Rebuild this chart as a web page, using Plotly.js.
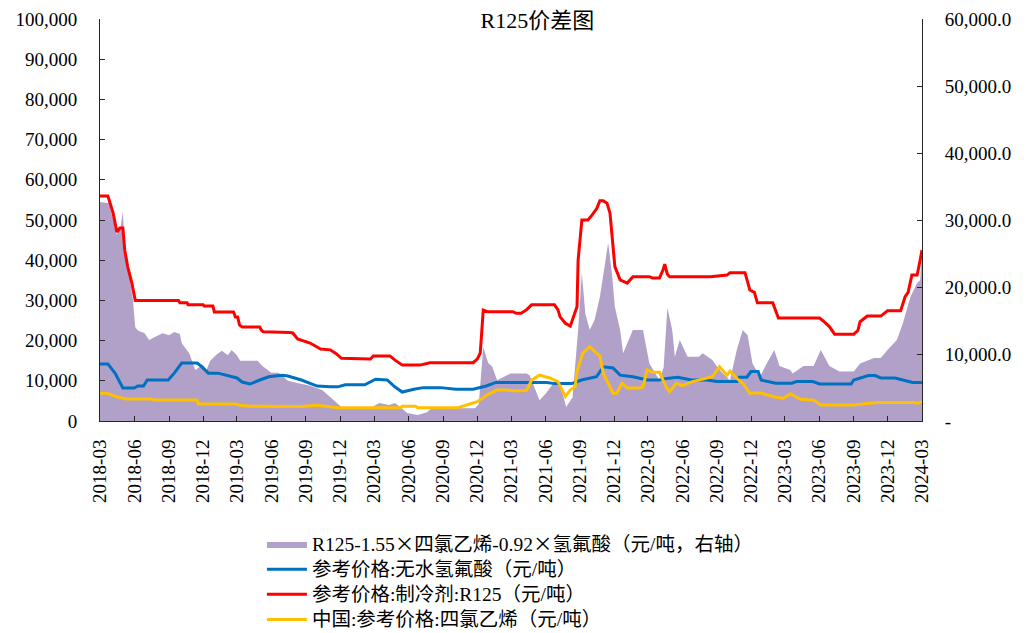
<!DOCTYPE html>
<html>
<head>
<meta charset="utf-8">
<script src="https://cdn.plot.ly/plotly-3.0.1.min.js"></script>
<style>
  html, body { margin: 0; padding: 0; background: #ffffff; }
  #chart { width: 1033px; height: 633px; }
</style>
</head>
<body>
<div id="chart"></div>
<script>
// R125 spread (right axis, area)
const spreadDates = ['2018-03-01','2018-03-25','2018-04-15','2018-04-25','2018-05-01','2018-05-06','2018-05-20','2018-05-28','2018-06-03','2018-06-10','2018-06-28','2018-07-10','2018-07-28','2018-08-15','2018-09-01','2018-09-15','2018-09-30','2018-10-05','2018-10-25','2018-11-01','2018-11-10','2018-11-30','2018-12-10','2018-12-20','2019-01-05','2019-01-20','2019-02-05','2019-02-15','2019-02-28','2019-03-10','2019-04-25','2019-05-08','2019-06-01','2019-06-20','2019-07-15','2019-08-15','2019-09-10','2019-10-15','2019-11-05','2019-11-25','2019-12-05','2020-02-25','2020-03-15','2020-04-10','2020-04-25','2020-05-10','2020-05-28','2020-06-25','2020-07-20','2020-08-01','2020-11-25','2020-12-05','2020-12-17','2020-12-30','2021-01-10','2021-01-23','2021-02-28','2021-04-12','2021-04-20','2021-05-16','2021-06-02','2021-06-28','2021-07-12','2021-07-26','2021-08-12','2021-08-27','2021-09-06','2021-09-15','2021-09-27','2021-10-10','2021-10-24','2021-11-07','2021-11-15','2021-11-25','2021-12-03','2021-12-17','2021-12-25','2022-01-20','2022-02-16','2022-03-05','2022-04-01','2022-04-12','2022-04-22','2022-05-05','2022-05-12','2022-05-25','2022-06-15','2022-07-15','2022-07-25','2022-08-20','2022-09-08','2022-10-06','2022-10-24','2022-11-09','2022-11-22','2022-12-05','2022-12-25','2023-01-12','2023-02-01','2023-02-15','2023-03-16','2023-03-22','2023-04-20','2023-05-17','2023-06-05','2023-06-28','2023-07-25','2023-09-01','2023-09-18','2023-10-25','2023-11-12','2023-11-30','2023-12-25','2024-01-10','2024-01-30','2024-02-17','2024-02-25','2024-03-01'];
const spreadVals = [32700,32500,27800,29000,31200,26000,21000,18000,14000,13500,13100,12100,12600,13100,12800,13300,13000,11600,10100,9100,7600,8400,7600,9000,9900,10500,9800,10600,9900,9000,9000,8200,7200,7200,6000,5600,5300,4600,3600,2600,2100,2100,2700,2400,2700,2100,1200,900,1300,1900,1900,2500,11000,8700,8100,6100,7100,7100,6800,3100,4100,6100,5100,2100,3500,13600,22100,16100,13600,15100,18500,23600,26600,22100,17000,13600,10100,13600,13600,8600,6100,8000,16900,13600,9600,12100,9600,9600,10100,9100,7600,6100,10600,13600,12800,8600,6600,8600,10600,8200,7600,7100,8200,8200,10600,8200,7400,7400,8600,9400,9400,10600,12100,14600,18500,20600,21000,25500];

// anhydrous hydrofluoric acid
const hfDates = ['2018-03-01','2018-03-22','2018-04-10','2018-04-23','2018-05-01','2018-05-31','2018-06-10','2018-06-25','2018-07-05','2018-08-30','2018-09-15','2018-10-05','2018-11-15','2018-11-25','2018-12-15','2019-01-10','2019-03-01','2019-03-15','2019-04-05','2019-05-01','2019-05-25','2019-06-30','2019-07-15','2019-08-20','2019-10-01','2019-11-05','2019-11-25','2019-12-15','2020-02-05','2020-03-05','2020-04-05','2020-04-25','2020-05-15','2020-06-15','2020-07-10','2020-08-25','2020-10-05','2020-11-20','2020-12-25','2021-01-20','2021-06-05','2021-06-25','2021-08-10','2021-09-05','2021-10-15','2021-11-02','2021-11-28','2021-12-17','2022-01-20','2022-02-28','2022-04-01','2022-04-20','2022-05-20','2022-06-25','2022-08-05','2022-09-01','2022-10-25','2022-10-30','2022-11-20','2022-12-01','2022-12-20','2022-12-28','2023-02-05','2023-03-20','2023-04-01','2023-05-15','2023-06-02','2023-08-25','2023-09-01','2023-10-10','2023-10-28','2023-11-12','2023-12-20','2024-01-10','2024-02-05','2024-03-01'];
const hfVals = [14200,14200,11900,9500,8200,8200,8700,8700,10200,10200,11900,14400,14400,13700,11900,11900,10700,9700,9200,10200,11000,11400,11200,10200,8700,8500,8500,9000,9000,10400,10200,8500,7200,7900,8300,8300,7900,7900,8700,9600,9600,9300,9300,10200,11000,13500,13200,11400,11000,10200,10200,10600,10900,10200,10200,9800,9800,10900,10900,12300,12300,10200,9400,9400,9800,9800,9200,9200,10200,11300,11300,10700,10700,10200,9600,9600];

// refrigerant R125
const r125Dates = ['2018-03-01','2018-03-22','2018-04-05','2018-04-15','2018-04-23','2018-05-01','2018-05-06','2018-05-14','2018-05-25','2018-06-03','2018-09-26','2018-09-30','2018-10-19','2018-10-22','2018-12-01','2018-12-04','2018-12-27','2018-12-31','2019-02-20','2019-02-25','2019-03-03','2019-03-08','2019-03-15','2019-05-01','2019-05-05','2019-05-10','2019-07-20','2019-07-28','2019-08-10','2019-08-25','2019-09-12','2019-10-01','2019-10-10','2019-11-05','2019-11-20','2019-12-05','2020-02-20','2020-02-28','2020-04-12','2020-04-25','2020-05-15','2020-07-01','2020-07-20','2020-07-28','2020-11-20','2020-12-01','2020-12-09','2020-12-17','2020-12-28','2021-03-06','2021-03-15','2021-03-28','2021-04-12','2021-04-25','2021-06-25','2021-07-04','2021-07-10','2021-07-24','2021-08-06','2021-08-14','2021-08-24','2021-08-27','2021-09-01','2021-09-06','2021-09-22','2021-10-03','2021-10-16','2021-10-24','2021-11-02','2021-11-12','2021-11-20','2021-11-28','2021-12-03','2021-12-17','2022-01-05','2022-01-20','2022-03-05','2022-03-13','2022-04-01','2022-04-10','2022-04-15','2022-04-22','2022-04-28','2022-08-15','2022-09-28','2022-10-06','2022-11-15','2022-11-28','2022-12-10','2022-12-18','2023-01-28','2023-02-12','2023-06-02','2023-06-10','2023-06-28','2023-07-12','2023-09-01','2023-09-12','2023-09-18','2023-10-07','2023-11-12','2023-11-30','2024-01-04','2024-01-16','2024-01-24','2024-02-03','2024-02-17','2024-02-25','2024-03-01'];
const r125Vals = [56000,56000,51700,47000,48000,48000,42500,38300,34300,30000,30000,29400,29400,28900,28900,28600,28600,27100,27100,25900,25900,23900,23400,23400,22600,22200,22000,21900,20400,20000,19400,18400,17900,17700,16800,15600,15400,16200,16200,15200,13900,13900,14200,14500,14500,15400,16900,27600,27200,27200,26800,26800,27700,28900,28900,27700,25900,24300,23600,25900,28400,40000,45500,50000,50000,51200,52900,54800,54800,54200,51700,42100,38400,35100,34300,35900,35900,35600,35600,37500,39000,36500,35900,35900,36300,36900,36900,32600,32000,29400,29400,25600,25600,25000,23500,21600,21600,22500,24700,26100,26100,27400,27400,30900,32000,36300,36300,40000,42500];

// China tetrachloroethylene
const pceDates = ['2018-03-01','2018-03-20','2018-04-15','2018-05-10','2018-07-15','2018-07-25','2018-11-15','2018-11-18','2019-02-25','2019-03-10','2019-04-05','2019-07-20','2019-08-20','2019-10-01','2019-11-25','2020-05-10','2020-05-15','2020-06-20','2020-06-25','2020-10-10','2020-11-05','2020-12-01','2020-12-28','2021-01-23','2021-02-18','2021-03-06','2021-04-01','2021-04-12','2021-04-25','2021-05-16','2021-06-12','2021-07-04','2021-07-24','2021-08-06','2021-08-19','2021-08-24','2021-09-08','2021-09-27','2021-10-16','2021-10-24','2021-11-02','2021-11-15','2021-11-28','2021-12-08','2021-12-22','2022-01-05','2022-02-08','2022-02-16','2022-02-27','2022-03-13','2022-04-01','2022-04-20','2022-04-28','2022-05-16','2022-06-01','2022-06-28','2022-08-05','2022-08-20','2022-09-08','2022-09-28','2022-10-06','2022-10-24','2022-11-09','2022-11-28','2022-12-25','2023-01-28','2023-02-25','2023-03-16','2023-04-12','2023-05-17','2023-06-05','2023-09-01','2023-10-01','2023-11-02','2024-02-08','2024-02-19','2024-03-01'];
const pceVals = [6900,6900,6000,5500,5500,5200,5200,4200,4200,3900,3700,3700,3600,3900,3300,3300,3700,3700,3300,3300,4000,4800,6500,7700,7700,7500,7500,7700,10200,11400,10700,9800,6100,7700,8500,12300,16800,18500,16800,16200,11900,9400,6900,6900,9400,8200,8200,8500,12700,12100,12100,8200,7300,9400,8800,9800,10600,11000,13500,11400,12400,10600,9400,6900,7000,6100,5600,6800,5400,5200,4000,4000,4300,4600,4600,4400,4800];

const TIMES = '<span style="font-family:\'Noto Sans CJK SC\'">×</span>';
const seriesNames = [
  'R125-1.55' + TIMES + '四氯乙烯-0.92' + TIMES + '氢氟酸（元/吨，右轴）',
  '参考价格:无水氢氟酸（元/吨）',
  '参考价格:制冷剂:R125（元/吨）',
  '中国:参考价格:四氯乙烯（元/吨）'
];
const rightTickVals = [0, 10000, 20000, 30000, 40000, 50000, 60000];
const rightTickText = ['-', '10,000.0', '20,000.0', '30,000.0', '40,000.0', '50,000.0', '60,000.0'];

const FONT = 'Liberation Serif, "Noto Sans CJK SC", serif';
const AXIS_COLOR = '#262626';

// legend rows keep 17px spacing, text itself drawn a little larger
function legendLabel(s) {
  return '<span style="font-size:19.5px">' + s + '</span>';
}

const traces = [
  { x: spreadDates, y: spreadVals, name: legendLabel(seriesNames[0]), type: 'scatter', mode: 'lines',
    fill: 'tozeroy', fillcolor: '#b1a0c7', line: { width: 0, color: '#b1a0c7' }, yaxis: 'y' },
  { x: hfDates, y: hfVals, name: legendLabel(seriesNames[1]), type: 'scatter', mode: 'lines',
    line: { color: '#0070c0', width: 3 }, yaxis: 'y2' },
  { x: r125Dates, y: r125Vals, name: legendLabel(seriesNames[2]), type: 'scatter', mode: 'lines',
    line: { color: '#ff0000', width: 3 }, yaxis: 'y2' },
  { x: pceDates, y: pceVals, name: legendLabel(seriesNames[3]), type: 'scatter', mode: 'lines',
    line: { color: '#ffc000', width: 3 }, yaxis: 'y2' }
];

const tickStyle = {
  ticks: 'inside', ticklen: 5, tickcolor: AXIS_COLOR, showline: true, linecolor: AXIS_COLOR, linewidth: 1,
  showgrid: false, zeroline: false, automargin: false,
  tickfont: { family: FONT, size: 19, color: '#000000' }
};

const layout = {
  width: 1033, height: 633,
  margin: { l: 100, r: 111, t: 19, b: 212, autoexpand: false },
  paper_bgcolor: '#ffffff', plot_bgcolor: '#ffffff',
  font: { family: FONT, size: 19, color: '#000000' },
  title: { text: 'R125价差图', font: { family: FONT, size: 22, color: '#000000' },
    x: 0.532, xref: 'paper', xanchor: 'center', y: 0.968, yref: 'container', yanchor: 'middle' },
  showlegend: true,
  legend: { x: 0.197, xanchor: 'left', y: -0.2625, yanchor: 'top', orientation: 'v',
    font: { family: FONT, size: 17, color: '#000000' }, bgcolor: 'rgba(0,0,0,0)', itemwidth: 40 },
  xaxis: Object.assign({}, tickStyle, {
    type: 'date', range: ['2018-03-01', '2024-03-01'],
    tick0: '2018-03-01', dtick: 'M3', tickformat: '%Y-%m', tickangle: -90,
    ticklabelstandoff: 10, anchor: 'y'
  }),
  yaxis: Object.assign({}, tickStyle, {
    side: 'right', range: [0, 60000], tickvals: rightTickVals, ticktext: rightTickText,
    ticklabelstandoff: 18
  }),
  yaxis2: Object.assign({}, tickStyle, {
    side: 'left', overlaying: 'y', range: [0, 100000], dtick: 10000, tickformat: ',d',
    ticklabelstandoff: 18
  })
};

Plotly.newPlot('chart', traces, layout, { displayModeBar: false, responsive: false });
</script>
</body>
</html>
